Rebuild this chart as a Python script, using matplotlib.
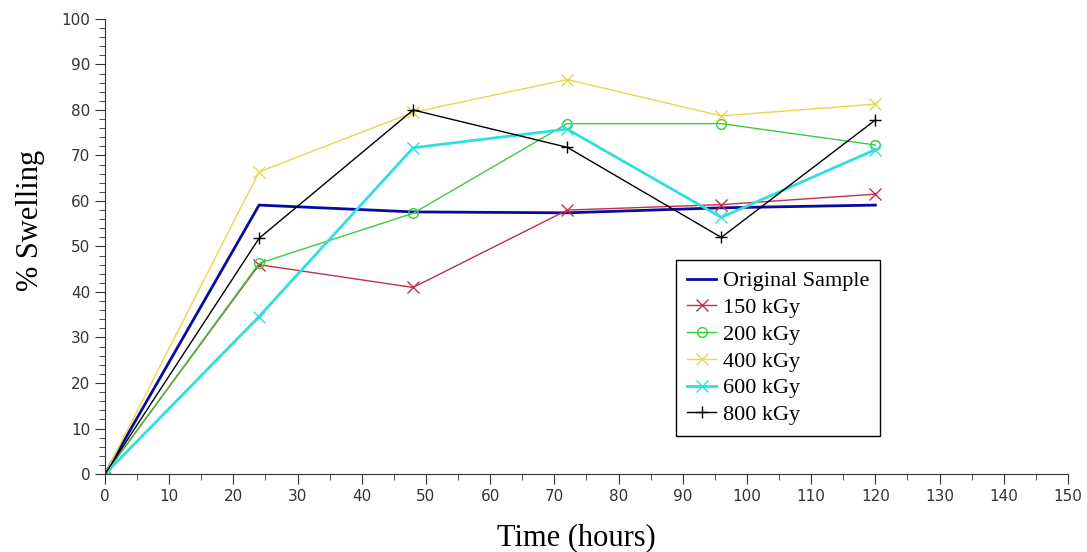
import matplotlib
matplotlib.use('Agg')
import matplotlib.pyplot as plt
from matplotlib.ticker import MultipleLocator

# swelling data
time_h = [0, 24, 48, 72, 96, 120]
original = [0, 59.1, 57.6, 57.4, 58.5, 59.1]
kgy150 = [0, 46.0, 41.0, 58.0, 59.2, 61.5]
kgy200 = [0, 46.3, 57.3, 77.0, 77.0, 72.3]
kgy400 = [0, 66.4, 79.5, 86.7, 78.7, 81.3]
kgy600 = [0, 34.6, 71.7, 75.8, 56.4, 71.3]
kgy800 = [0, 51.8, 80.0, 71.8, 52.0, 77.8]

fig = plt.figure(figsize=(10.87, 5.52), dpi=100)
ax = fig.add_axes([0.0966, 0.1413, 0.8859, 0.8243])

ax.plot(time_h, original, color='#0a0aa0', lw=2, label='Original Sample')
ax.plot(time_h, kgy150, color='#c0304a', lw=1, marker='x', ms=8, mew=1, label='150 kGy')
ax.plot(time_h, kgy200, color='#3ccc3c', lw=1, marker='o', ms=7, mfc='none', mew=1, label='200 kGy')
ax.plot(time_h, kgy400, color='#e6d84a', lw=1, marker='x', ms=8, mew=1, label='400 kGy')
ax.plot(time_h, kgy600, color='#30dede', lw=2, marker='x', ms=8, mew=1, label='600 kGy')
ax.plot(time_h, kgy800, color='black', lw=1, marker='+', ms=9, mew=1, label='800 kGy')

ax.set_xlim(0, 150)
ax.set_ylim(0, 100)
ax.xaxis.set_major_locator(MultipleLocator(10))
ax.xaxis.set_minor_locator(MultipleLocator(5))
ax.yaxis.set_major_locator(MultipleLocator(10))
ax.yaxis.set_minor_locator(MultipleLocator(2))
ax.tick_params(which='major', length=7, color='#333333', labelsize=11, labelcolor='#333333')
ax.tick_params(which='minor', length=4, color='#333333')
ax.spines['top'].set_visible(False)
ax.spines['right'].set_visible(False)
ax.spines['left'].set_color('#333333')
ax.spines['bottom'].set_color('#333333')

ax.set_xlabel('Time (hours)', fontsize=22, family='Liberation Serif')
ax.set_ylabel('% Swelling', fontsize=22, family='Liberation Serif')
ax.xaxis.set_label_coords(0.49, -0.108)
ax.yaxis.set_label_coords(-0.062, 0.558)

leg = ax.legend(loc='upper left', bbox_to_anchor=(0.593, 0.471), borderaxespad=0,
                fancybox=False, edgecolor='black', framealpha=1,
                prop={'family': 'Liberation Serif', 'size': 16},
                handlelength=1.3, handletextpad=0.3, labelspacing=0.28,
                borderpad=0.5)
leg.get_frame().set_linewidth(1)

fig.savefig('out.png', dpi=100)
